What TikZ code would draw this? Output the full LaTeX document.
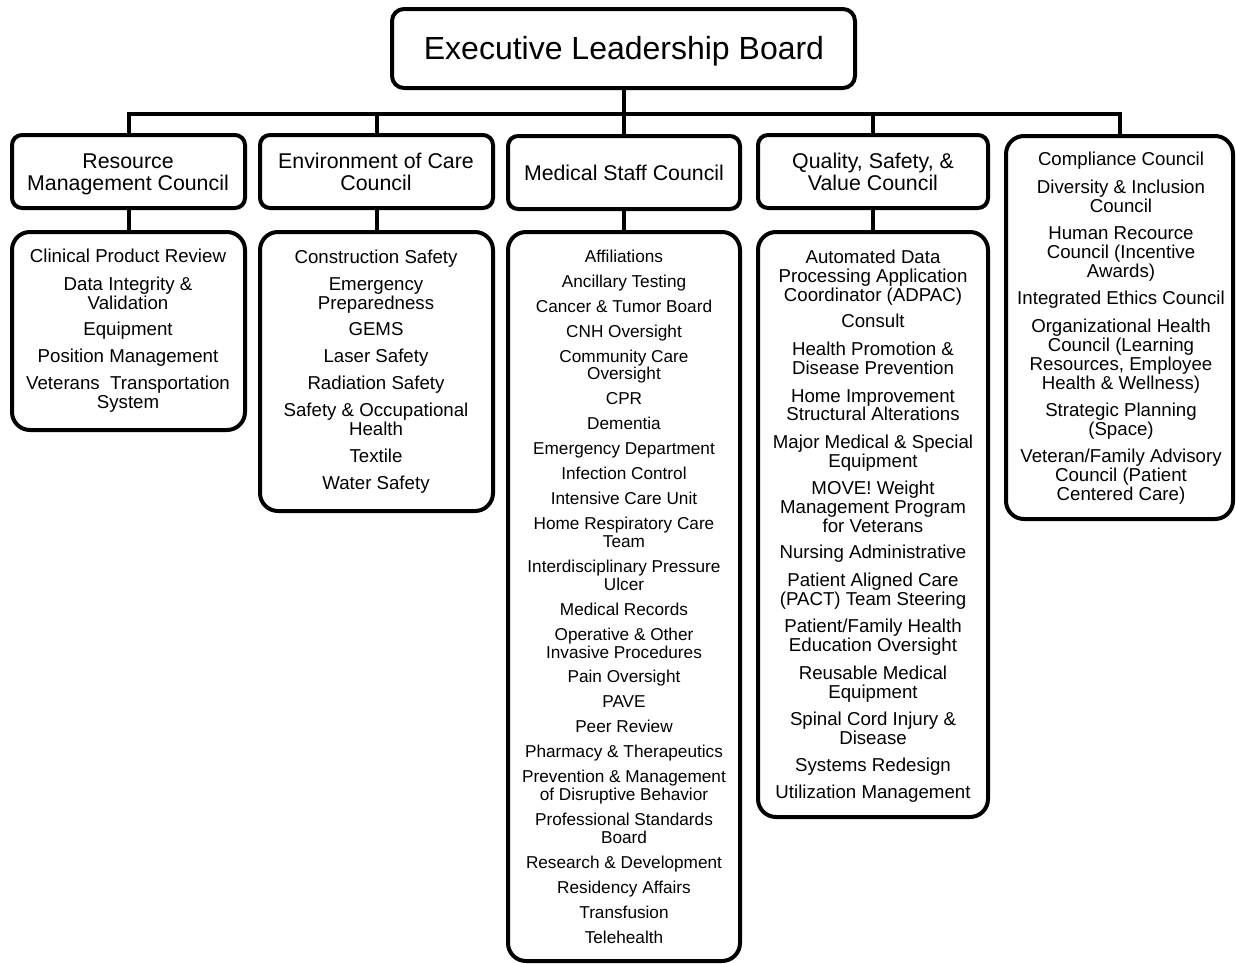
\documentclass[tikz,border=0pt]{standalone}
\usepackage{fontspec}
\setmainfont{Liberation Sans}
\begin{document}
\begin{tikzpicture}[x=0.75pt,y=-0.75pt,
  box/.style={draw,line width=3pt,fill=white,inner sep=0pt,outer sep=0pt},
  lst/.style={font=\fontsize{14}{14.25}\selectfont,anchor=base,inner sep=0pt},
  lsm/.style={font=\fontsize{12.9}{13.5}\selectfont,anchor=base,inner sep=0pt},
  hdr/.style={font=\fontsize{16}{16.5}\selectfont,anchor=base,inner sep=0pt},
  ttl/.style={font=\fontsize{24}{26}\selectfont,anchor=base,inner sep=0pt},
  con/.style={line width=3pt}]
\useasboundingbox (0,0) rectangle (1236,964);
\newcommand\bx[6]{\node[box,rounded corners=#6*0.75pt,minimum width={(#4-#2)*0.75pt},minimum height={(#5-#3)*0.75pt}] (#1) at ({(#2+#4)/2},{(#3+#5)/2}) {};}
\newcommand\li[5]{\node[#1] (#2) at (#3,#4) {#5};}
% connectors
\coordinate (busL) at (127,114);
\bx{top}{392}{9}{855}{88}{12}
\bx{h1}{12}{135}{245}{208}{10}
\bx{h2}{260}{135}{493}{208}{10}
\bx{h3}{508}{136}{740}{209}{10}
\bx{h4}{758}{135}{988}{208}{10}
\bx{c5}{1006}{136}{1233}{519}{18}
\bx{l1}{12}{232}{245}{430}{18}
\bx{l2}{260}{232}{493}{511}{18}
\bx{l3}{508}{232}{740}{961}{18}
\bx{l4}{758}{232}{988}{817}{18}
\draw[con] (h1.north) -- (h1.north |- busL) -- (c5.north |- busL) -- (c5.north);
\draw[con] (top.south) -- (top.south |- busL);
\draw[con] (h2.north |- busL) -- (h2.north);
\draw[con] (h3.north |- busL) -- (h3.north);
\draw[con] (h4.north |- busL) -- (h4.north);
\draw[con] (h1.south) -- (l1.north);
\draw[con] (h2.south) -- (l2.north);
\draw[con] (h3.south) -- (l3.north);
\draw[con] (h4.south) -- (l4.north);
% title and headers
\li{ttl}{tt}{624}{59}{Executive Leadership Board}
\li{hdr}{h1a}{128}{168.5}{Resource}
\li{hdr}{h1b}{128}{190.5}{Management Council}
\li{hdr}{h2a}{376}{168.5}{Environment of Care}
\li{hdr}{h2b}{376}{190.5}{Council}
\li{hdr}{h3a}{624}{180.5}{Medical Staff Council}
\li{hdr}{h4a}{873}{168.5}{Quality, Safety, \&}
\li{hdr}{h4b}{873}{190.5}{Value Council}
% box 1
\li{lst}{a1}{128}{262}{Clinical Product Review}
\li{lst}{a2}{128}{290}{Data Integrity \&}
\li{lst}{a3}{128}{309}{Validation}
\li{lst}{a4}{128}{335}{Equipment}
\li{lst}{a5}{128}{362}{Position Management}
\li{lst}{a6}{128}{389}{Veterans\ \ Transportation}
\li{lst}{a7}{128}{408}{System}
% box 2
\li{lst}{b1}{376}{263}{Construction Safety}
\li{lst}{b2}{376}{290}{Emergency}
\li{lst}{b3}{376}{309}{Preparedness}
\li{lst}{b4}{376}{335}{GEMS}
\li{lst}{b5}{376}{362}{Laser Safety}
\li{lst}{b6}{376}{389}{Radiation Safety}
\li{lst}{b7}{376}{416}{Safety \& Occupational}
\li{lst}{b8}{376}{435}{Health}
\li{lst}{b9}{376}{462}{Textile}
\li{lst}{b10}{376}{489}{Water Safety}
% box 3
\li{lsm}{m1}{624}{262}{Affiliations}
\li{lsm}{m2}{624}{287}{Ancillary Testing}
\li{lsm}{m3}{624}{312}{Cancer \& Tumor Board}
\li{lsm}{m4}{624}{337}{CNH Oversight}
\li{lsm}{m5}{624}{362}{Community Care}
\li{lsm}{m6}{624}{379}{Oversight}
\li{lsm}{m7}{624}{404}{CPR}
\li{lsm}{m8}{624}{429}{Dementia}
\li{lsm}{m9}{624}{454}{Emergency Department}
\li{lsm}{m10}{624}{479}{Infection Control}
\li{lsm}{m11}{624}{504}{Intensive Care Unit}
\li{lsm}{m12}{624}{529}{Home Respiratory Care}
\li{lsm}{m13}{624}{547}{Team}
\li{lsm}{m14}{624}{572}{Interdisciplinary Pressure}
\li{lsm}{m15}{624}{590}{Ulcer}
\li{lsm}{m16}{624}{615}{Medical Records}
\li{lsm}{m17}{624}{640}{Operative \& Other}
\li{lsm}{m18}{624}{658}{Invasive Procedures}
\li{lsm}{m19}{624}{682}{Pain Oversight}
\li{lsm}{m20}{624}{707}{PAVE}
\li{lsm}{m21}{624}{732}{Peer Review}
\li{lsm}{m22}{624}{757}{Pharmacy \& Therapeutics}
\li{lsm}{m23}{624}{782}{Prevention \& Management}
\li{lsm}{m24}{624}{800}{of Disruptive Behavior}
\li{lsm}{m25}{624}{825}{Professional Standards}
\li{lsm}{m26}{624}{843}{Board}
\li{lsm}{m27}{624}{868}{Research \& Development}
\li{lsm}{m28}{624}{893}{Residency Affairs}
\li{lsm}{m29}{624}{918}{Transfusion}
\li{lsm}{m30}{624}{943}{Telehealth}
% box 4
\li{lst}{q1}{873}{263}{Automated Data}
\li{lst}{q2}{873}{282}{Processing Application}
\li{lst}{q3}{873}{301}{Coordinator (ADPAC)}
\li{lst}{q4}{873}{327}{Consult}
\li{lst}{q5}{873}{355}{Health Promotion \&}
\li{lst}{q6}{873}{374}{Disease Prevention}
\li{lst}{q7}{873}{402}{Home Improvement}
\li{lst}{q8}{873}{420}{Structural Alterations}
\li{lst}{q9}{873}{448}{Major Medical \& Special}
\li{lst}{q10}{873}{467}{Equipment}
\li{lst}{q11}{873}{494}{MOVE! Weight}
\li{lst}{q12}{873}{513}{Management Program}
\li{lst}{q13}{873}{532}{for Veterans}
\li{lst}{q14}{873}{558}{Nursing Administrative}
\li{lst}{q15}{873}{586}{Patient Aligned Care}
\li{lst}{q16}{873}{605}{(PACT) Team Steering}
\li{lst}{q17}{873}{632}{Patient/Family Health}
\li{lst}{q18}{873}{651}{Education Oversight}
\li{lst}{q19}{873}{679}{Reusable Medical}
\li{lst}{q20}{873}{698}{Equipment}
\li{lst}{q21}{873}{725}{Spinal Cord Injury \&}
\li{lst}{q22}{873}{744}{Disease}
\li{lst}{q23}{873}{771}{Systems Redesign}
\li{lst}{q24}{873}{798}{Utilization Management}
% box 5
\li{lst}{c1}{1121}{165}{Compliance Council}
\li{lst}{c2}{1121}{193}{Diversity \& Inclusion}
\li{lst}{c3}{1121}{212}{Council}
\li{lst}{c4}{1121}{239}{Human Recource}
\li{lst}{c5a}{1121}{258}{Council (Incentive}
\li{lst}{c6}{1121}{277}{Awards)}
\li{lst}{c7}{1121}{304}{Integrated Ethics Council}
\li{lst}{c8}{1121}{332}{Organizational Health}
\li{lst}{c9}{1121}{351}{Council (Learning}
\li{lst}{c10}{1121}{370}{Resources, Employee}
\li{lst}{c11}{1121}{389}{Health \& Wellness)}
\li{lst}{c12}{1121}{416}{Strategic Planning}
\li{lst}{c13}{1121}{435}{(Space)}
\li{lst}{c14}{1121}{462}{Veteran/Family Advisory}
\li{lst}{c15}{1121}{481}{Council (Patient}
\li{lst}{c16}{1121}{500}{Centered Care)}
\end{tikzpicture}
\end{document}
